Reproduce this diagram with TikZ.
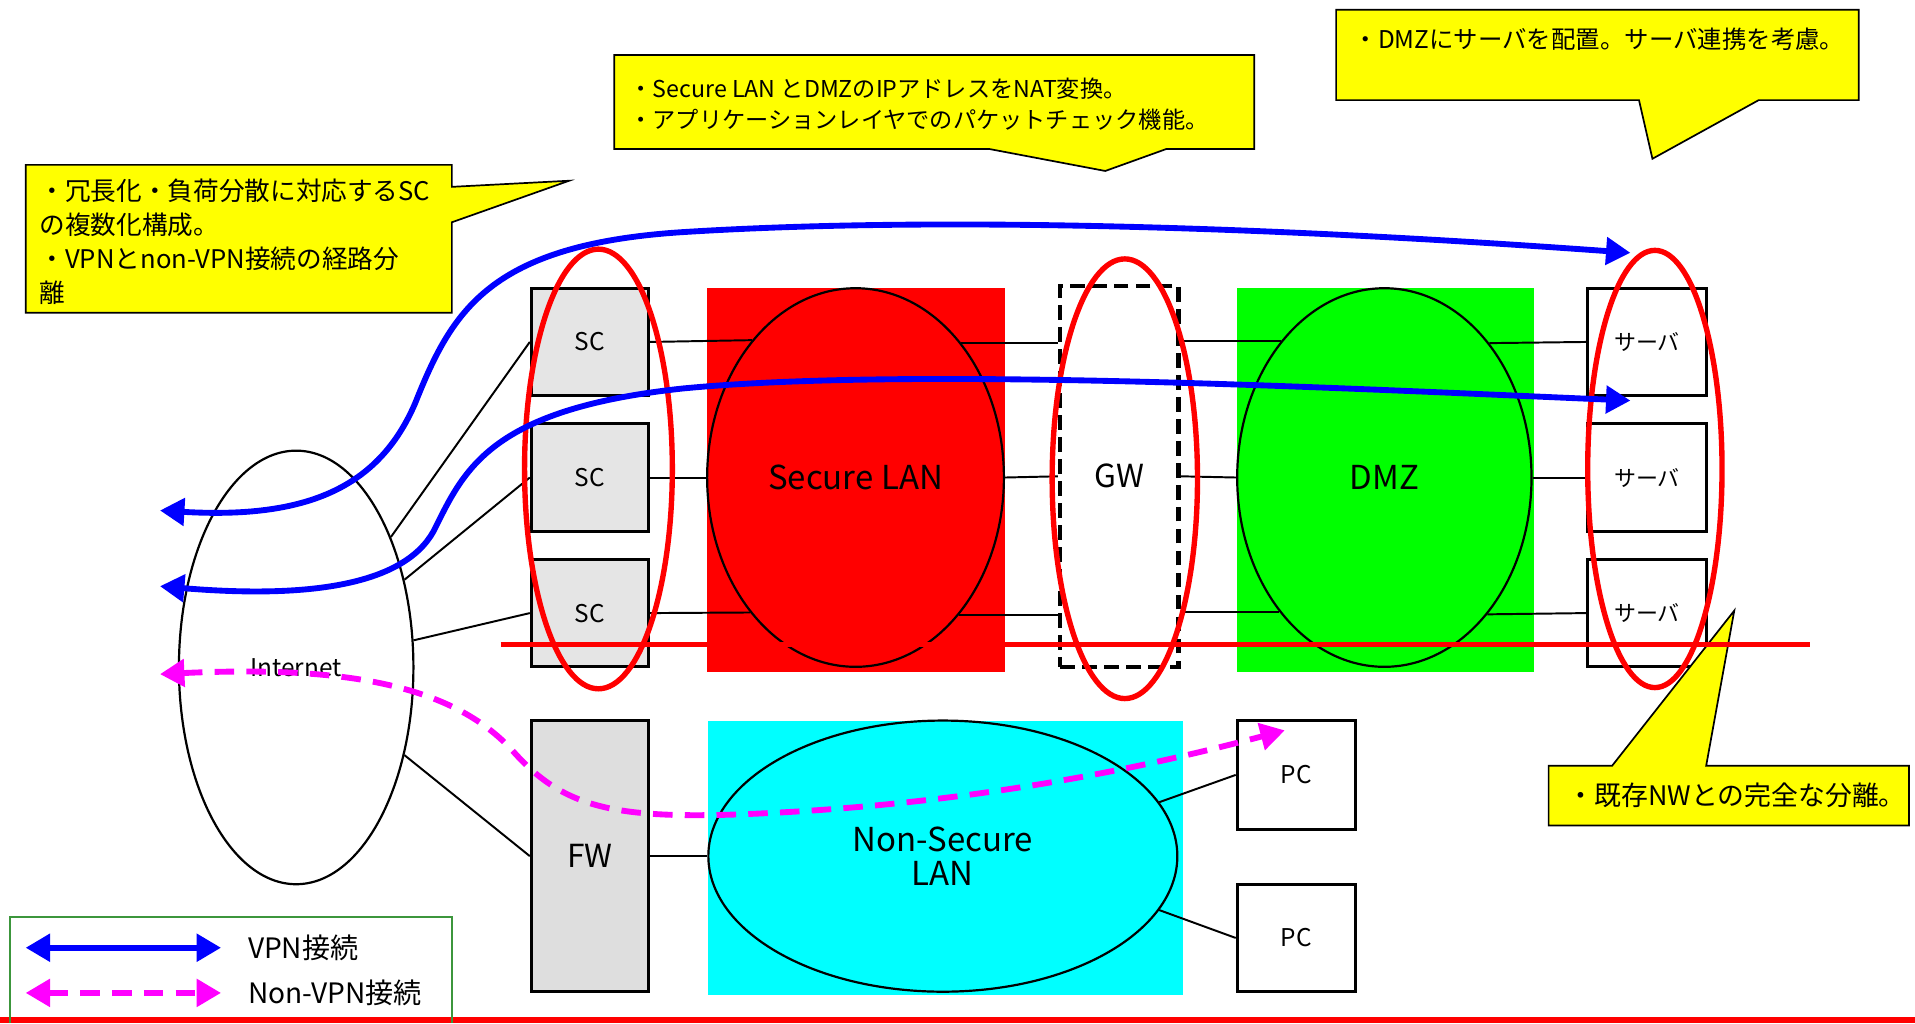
\documentclass[tikz,border=0pt]{standalone}
\usepackage{fontspec}
\setmainfont{Noto Sans CJK JP}
\usepackage{tkz-euclide}
\usetikzlibrary{arrows.meta,shapes.geometric}

\definecolor{noteyellow}{RGB}{255,255,0}
\definecolor{scgray}{RGB}{229,229,229}
\definecolor{fwgray}{RGB}{222,222,222}
\definecolor{legendgreen}{RGB}{60,150,60}
\definecolor{lanred}{RGB}{255,0,0}
\definecolor{langreen}{RGB}{0,255,0}
\definecolor{lancyan}{RGB}{0,255,255}
\definecolor{vpnblue}{RGB}{0,0,255}
\definecolor{nonpink}{RGB}{255,0,255}

\tikzset{
    box/.style={draw,line width=1.2pt,inner sep=0pt,minimum width=48pt,minimum height=44pt,font=\fontsize{10}{12}\selectfont},
    scbox/.style={box,fill=scgray},
    srvbox/.style={box,fill=white,minimum width=48.5pt,font=\fontsize{9}{11}\selectfont},
    lan/.style={ellipse,draw,line width=0.9pt,inner sep=0pt,font=\fontsize{13.5}{14}\selectfont},
    link/.style={line width=0.8pt},
    zone/.style={lanred,line width=2.2pt},
    note/.style={draw,fill=noteyellow,line width=0.7pt},
    notetext/.style={inner sep=0pt,align=left},
    vpn/.style={vpnblue,line width=2.4pt,>={Triangle[length=10pt,width=11pt]},<->},
    nonvpn/.style={nonpink,line width=2.4pt,dash pattern=on 8pt off 5pt,>={Triangle[length=10pt,width=11pt]},<->}
}

\begin{document}
\begin{tikzpicture}[x=0.5pt,y=-0.5pt]
            \useasboundingbox[fill=white] (0,0) rectangle (1568,838);

            \fill[lanred] (579,236) rectangle (823,550);
            \fill[langreen] (1013,236) rectangle (1256,550);
            \fill[lancyan] (580,590) rectangle (969,815);

            \node[ellipse,draw,line width=0.9pt,inner sep=0pt,minimum width=96pt,minimum height=177.5pt,font=\fontsize{10}{12}\selectfont] (inet) at (242.5,546.5) {Internet};

            \node[scbox] (sc1) at (483,280) {SC};
            \node[scbox] (sc2) at (483,391) {SC};
            \node[scbox] (sc3) at (483,502) {SC};
            \node[box,fill=fwgray,minimum height=111pt,font=\fontsize{13}{14}\selectfont] (fw) at (483,701) {FW};

            \node[lan,fill=lanred,minimum width=121.5pt,minimum height=155pt] (seclan) at (700.5,391) {Secure LAN};
            \node[box,dash pattern=on 6pt off 3pt,line width=1.8pt,minimum width=48.5pt,minimum height=156pt,font=\fontsize{13}{14}\selectfont] (gw) at (916.5,390) {GW};
            \node[lan,fill=langreen,minimum width=120.5pt,minimum height=155pt] (dmz) at (1133.5,391) {DMZ};
            \node[lan,fill=lancyan,minimum width=192pt,minimum height=111pt,align=center] (nslan) at (772,701) {Non-Secure\\LAN};

            \node[srvbox] (srv1) at (1348.5,280) {サーバ};
            \node[srvbox] (srv2) at (1348.5,391) {サーバ};
            \node[srvbox] (srv3) at (1348.5,502) {サーバ};
            \node[box,minimum width=48.5pt,minimum height=44.5pt] (pc1) at (1061.5,634.5) {PC};
            \node[box,minimum width=48.5pt,minimum height=44pt] (pc2) at (1061.5,768) {PC};

            \draw[link] (inet.54) -- (sc1.west);
            \draw[link] (inet.39) -- (sc2.west);
            \draw[link] (inet.13) -- (sc3.west);
            \draw[link] (inet.-39) -- (fw.west);
            \draw[link] (sc1.east) -- (seclan.127.4);
            \draw[link] (sc2.east) -- (seclan.west);
            \draw[link] (sc3.east) -- (seclan.232.6);
            \draw[link] (seclan.52.6) -- (seclan.52.6 -| gw.west);
            \draw[link] (seclan.east) -- (gw.west);
            \draw[link] (seclan.307.4) -- (seclan.307.4 -| gw.west);
            \draw[link] (dmz.127.2 -| gw.east) -- (dmz.127.2);
            \draw[link] (gw.east) -- (dmz.west);
            \draw[link] (dmz.232.8 -| gw.east) -- (dmz.232.8);
            \draw[link] (dmz.52.8) -- (srv1.west);
            \draw[link] (dmz.east) -- (srv2.west);
            \draw[link] (dmz.307.2) -- (srv3.west);
            \draw[link] (fw.east) -- (nslan.west);
            \draw[link] (nslan.14.6) -- (pc1.west);
            \draw[link] (nslan.-14.9) -- (pc2.west);

            \tkzDefPoint(466,148){tip_sc}
            \tkzDefPoint(905,140){tip_gw}
            \tkzDefPoint(1353,130){tip_srv}
            \tkzDefPoint(1420,500){tip_nw}

            \filldraw[note] (21,135) -- (370,135) -- (370,153) -- (tip_sc) -- (370,182) -- (370,256) -- (21,256) -- cycle;
            \node[notetext,anchor=north west,font=\fontsize{10.5}{14}\selectfont] (note_sc) at (32,146) {・冗長化・負荷分散に対応するSC\\の複数化構成。\\・VPNとnon-VPN接続の経路分\\離};
            \filldraw[note] (503,45) -- (1027,45) -- (1027,122) -- (955,122) -- (tip_gw) -- (810,122) -- (503,122) -- cycle;
            \node[notetext,anchor=north west,font=\fontsize{9.5}{12.5}\selectfont] (note_gw) at (515,63.5) {・Secure LAN とDMZのIPアドレスをNAT変換。\\・アプリケーションレイヤでのパケットチェック機能。};
            \filldraw[note] (1094,8) -- (1522,8) -- (1522,82) -- (1440,82) -- (tip_srv) -- (1342,82) -- (1094,82) -- cycle;
            \node[notetext,anchor=west,font=\fontsize{10}{12}\selectfont] (note_srv) at (1108,32) {・DMZにサーバを配置。サーバ連携を考慮。};
            \filldraw[note] (1268,627) -- (1320,627) -- (tip_nw) -- (1397,627) -- (1563,627) -- (1563,676) -- (1268,676) -- cycle;
            \node[notetext,anchor=west,font=\fontsize{11}{13}\selectfont] (note_nw) at (1283,651) {・既存NWとの完全な分離。};

            \draw[zone] (490,384) ellipse [x radius=30.25pt,y radius=90pt];
            \draw[zone] (921,392) ellipse [x radius=29.75pt,y radius=90pt];
            \draw[zone] (1355,384) ellipse [x radius=27.5pt,y radius=89.5pt];
            \draw[lanred,line width=2pt] (410,528) -- (1482,528);
            \draw[lanred,line width=2.4pt] (0,835) -- (1568,835);

            \tkzDefPoint(131,418){vpnA_l}
            \tkzDefPoint(1335,207){vpnA_r}
            \tkzDefPoint(131,480){vpnB_l}
            \tkzDefPoint(1335,328){vpnB_r}
            \tkzDefPoint(131,552){non_l}
            \tkzDefPoint(1052,598){non_r}
            \draw[vpn] (vpnA_l) .. controls (250,425) and (310,400) .. (340,330) .. controls (370,255) and (400,200) .. (560,190) .. controls (800,175) and (1100,190) .. (vpnA_r);
            \draw[vpn] (vpnB_l) .. controls (250,490) and (330,480) .. (355,435) .. controls (380,385) and (400,335) .. (560,318) .. controls (750,300) and (1100,318) .. (vpnB_r);
            \draw[nonvpn] (non_l) .. controls (280,545) and (370,560) .. (420,615) .. controls (460,660) and (500,670) .. (600,667) .. controls (800,660) and (950,625) .. (non_r);

            \draw[legendgreen,line width=1pt] (8,838) -- (8,751) -- (370,751) -- (370,838);
            \tkzDefPoint(21,776){lg_vpn_l}
            \tkzDefPoint(181,776){lg_vpn_r}
            \tkzDefPoint(21,813){lg_non_l}
            \tkzDefPoint(181,813){lg_non_r}
            \draw[vpn] (lg_vpn_l) -- (lg_vpn_r);
            \draw[nonvpn] (lg_non_l) -- (lg_non_r);
            \node[anchor=west,font=\fontsize{11.5}{13}\selectfont] (lg_vpn) at (196,776) {VPN接続};
            \node[anchor=west,font=\fontsize{11.5}{13}\selectfont] (lg_non) at (196,813) {Non-VPN接続};

        \end{tikzpicture}
\end{document}
